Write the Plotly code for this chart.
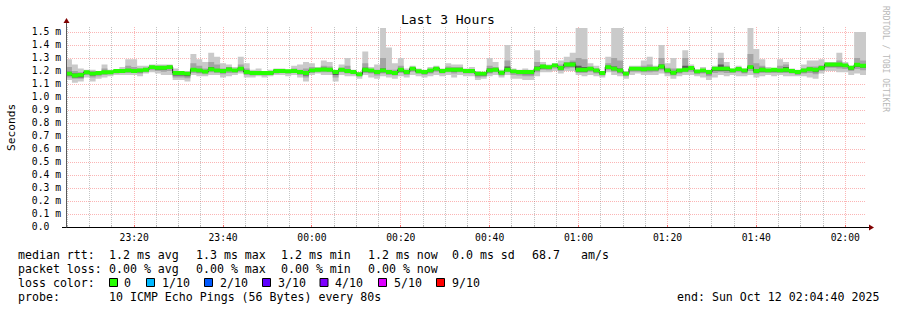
import plotly.graph_objects as go
from datetime import datetime, timedelta

# ---------------- data (values in milliseconds) ----------------
START = datetime(2025, 10, 11, 23, 4, 40)
END = datetime(2025, 10, 12, 2, 4, 40)
STEP_SECONDS = 80

MEDIAN = [
    1.180, 1.165, 1.170, 1.190, 1.180, 1.185, 1.190, 1.190, 1.200, 1.200, 1.205, 1.200, 1.205, 1.210, 1.230,
    1.225, 1.225, 1.230, 1.185, 1.185, 1.180, 1.210, 1.205, 1.195, 1.213, 1.205, 1.200, 1.212, 1.205, 1.218,
    1.192, 1.185, 1.185, 1.185, 1.185, 1.200, 1.200, 1.198, 1.200, 1.192, 1.185, 1.205, 1.210, 1.212, 1.210,
    1.192, 1.210, 1.200, 1.192, 1.175, 1.210, 1.205, 1.192, 1.205, 1.192, 1.185, 1.210, 1.192, 1.218, 1.198,
    1.192, 1.205, 1.218, 1.200, 1.210, 1.210, 1.210, 1.200, 1.200, 1.180, 1.180, 1.205, 1.210, 1.187, 1.210,
    1.197, 1.192, 1.192, 1.192, 1.218, 1.235, 1.230, 1.243, 1.223, 1.250, 1.250, 1.210, 1.210, 1.218, 1.205,
    1.185, 1.230, 1.218, 1.205, 1.180, 1.218, 1.218, 1.213, 1.218, 1.218, 1.235, 1.205, 1.187, 1.205, 1.210,
    1.223, 1.197, 1.205, 1.192, 1.218, 1.218, 1.218, 1.205, 1.215, 1.205, 1.230, 1.200, 1.210, 1.205, 1.210,
    1.205, 1.210, 1.200, 1.192, 1.205, 1.213, 1.210, 1.223, 1.250, 1.250, 1.250, 1.243, 1.225, 1.248, 1.240,
]
PING_MAX = [
    1.29, 1.25, 1.22, 1.21, 1.21, 1.20, 1.25, 1.21, 1.21, 1.23, 1.29, 1.29, 1.24, 1.24, 1.25,
    1.25, 1.25, 1.25, 1.22, 1.20, 1.20, 1.33, 1.29, 1.27, 1.34, 1.31, 1.26, 1.25, 1.23, 1.31,
    1.26, 1.21, 1.22, 1.20, 1.21, 1.22, 1.22, 1.21, 1.24, 1.25, 1.27, 1.26, 1.23, 1.28, 1.27,
    1.21, 1.25, 1.30, 1.21, 1.19, 1.35, 1.23, 1.25, 1.53, 1.38, 1.26, 1.30, 1.22, 1.24, 1.22,
    1.21, 1.23, 1.24, 1.22, 1.26, 1.25, 1.25, 1.22, 1.23, 1.20, 1.19, 1.30, 1.27, 1.21, 1.40,
    1.22, 1.21, 1.22, 1.21, 1.36, 1.27, 1.25, 1.26, 1.28, 1.31, 1.34, 1.53, 1.53, 1.26, 1.24,
    1.20, 1.31, 1.53, 1.53, 1.20, 1.24, 1.24, 1.28, 1.31, 1.24, 1.40, 1.26, 1.30, 1.22, 1.36,
    1.25, 1.21, 1.23, 1.21, 1.24, 1.34, 1.27, 1.22, 1.24, 1.22, 1.53, 1.37, 1.29, 1.23, 1.22,
    1.29, 1.27, 1.22, 1.21, 1.25, 1.28, 1.28, 1.29, 1.27, 1.27, 1.34, 1.27, 1.24, 1.50, 1.50,
]
PING_MIN = [
    1.13, 1.11, 1.12, 1.15, 1.12, 1.14, 1.15, 1.16, 1.17, 1.17, 1.17, 1.17, 1.16, 1.18, 1.19,
    1.18, 1.17, 1.17, 1.13, 1.13, 1.12, 1.17, 1.16, 1.16, 1.17, 1.17, 1.15, 1.16, 1.17, 1.18,
    1.15, 1.15, 1.16, 1.15, 1.16, 1.17, 1.17, 1.16, 1.17, 1.15, 1.12, 1.17, 1.18, 1.17, 1.17,
    1.12, 1.17, 1.16, 1.16, 1.14, 1.17, 1.15, 1.14, 1.16, 1.15, 1.14, 1.16, 1.15, 1.17, 1.16,
    1.15, 1.16, 1.17, 1.16, 1.17, 1.15, 1.17, 1.16, 1.16, 1.13, 1.14, 1.16, 1.17, 1.15, 1.17,
    1.14, 1.14, 1.13, 1.13, 1.16, 1.19, 1.19, 1.20, 1.18, 1.20, 1.20, 1.17, 1.16, 1.17, 1.16,
    1.15, 1.19, 1.17, 1.16, 1.14, 1.17, 1.18, 1.17, 1.17, 1.17, 1.18, 1.16, 1.14, 1.16, 1.17,
    1.17, 1.16, 1.15, 1.13, 1.15, 1.17, 1.16, 1.17, 1.16, 1.16, 1.17, 1.15, 1.16, 1.17, 1.16,
    1.17, 1.16, 1.16, 1.16, 1.16, 1.15, 1.14, 1.18, 1.20, 1.20, 1.19, 1.19, 1.17, 1.18, 1.17,
]
MID_HI = [
    1.23, 1.20, 1.19, 1.20, 1.20, 1.195, 1.22, 1.20, 1.205, 1.21, 1.24, 1.23, 1.22, 1.225, 1.24,
    1.24, 1.24, 1.24, 1.20, 1.195, 1.19, 1.26, 1.24, 1.22, 1.27, 1.25, 1.22, 1.23, 1.215, 1.25,
    1.22, 1.20, 1.20, 1.195, 1.20, 1.21, 1.21, 1.205, 1.22, 1.21, 1.22, 1.23, 1.22, 1.24, 1.235,
    1.20, 1.225, 1.24, 1.20, 1.185, 1.26, 1.215, 1.21, 1.30, 1.21, 1.21, 1.24, 1.205, 1.23, 1.21,
    1.20, 1.215, 1.23, 1.21, 1.235, 1.23, 1.23, 1.21, 1.215, 1.19, 1.185, 1.24, 1.23, 1.20, 1.28,
    1.21, 1.20, 1.205, 1.20, 1.27, 1.25, 1.24, 1.255, 1.25, 1.27, 1.28, 1.30, 1.29, 1.235, 1.22,
    1.195, 1.26, 1.30, 1.28, 1.19, 1.23, 1.23, 1.24, 1.25, 1.23, 1.30, 1.225, 1.22, 1.215, 1.30,
    1.235, 1.205, 1.215, 1.20, 1.23, 1.30, 1.24, 1.215, 1.225, 1.215, 1.33, 1.26, 1.24, 1.215, 1.215,
    1.24, 1.25, 1.21, 1.20, 1.22, 1.235, 1.235, 1.245, 1.26, 1.26, 1.28, 1.255, 1.235, 1.30, 1.28,
]
MID_LO = [
    1.15, 1.14, 1.14, 1.17, 1.15, 1.16, 1.17, 1.175, 1.18, 1.185, 1.185, 1.185, 1.18, 1.19, 1.205,
    1.20, 1.195, 1.20, 1.15, 1.15, 1.145, 1.185, 1.18, 1.175, 1.19, 1.185, 1.175, 1.185, 1.185, 1.195,
    1.17, 1.165, 1.17, 1.165, 1.17, 1.18, 1.185, 1.18, 1.185, 1.17, 1.15, 1.185, 1.19, 1.19, 1.19,
    1.15, 1.19, 1.18, 1.175, 1.16, 1.185, 1.18, 1.165, 1.18, 1.17, 1.165, 1.185, 1.17, 1.195, 1.18,
    1.17, 1.18, 1.195, 1.18, 1.19, 1.18, 1.19, 1.18, 1.18, 1.15, 1.155, 1.18, 1.19, 1.165, 1.19,
    1.17, 1.165, 1.16, 1.16, 1.19, 1.21, 1.205, 1.22, 1.20, 1.22, 1.225, 1.185, 1.185, 1.195, 1.18,
    1.165, 1.205, 1.195, 1.18, 1.16, 1.195, 1.195, 1.19, 1.19, 1.195, 1.205, 1.18, 1.165, 1.18, 1.19,
    1.195, 1.175, 1.18, 1.16, 1.185, 1.19, 1.185, 1.185, 1.19, 1.18, 1.20, 1.175, 1.185, 1.185, 1.185,
    1.185, 1.185, 1.18, 1.17, 1.18, 1.185, 1.175, 1.20, 1.225, 1.225, 1.22, 1.215, 1.20, 1.215, 1.205,
]
IN_HI = [
    1.195, 1.18, 1.18, 1.20, 1.19, 1.195, 1.20, 1.20, 1.21, 1.21, 1.215, 1.21, 1.215, 1.22, 1.235,
    1.235, 1.235, 1.24, 1.195, 1.19, 1.19, 1.22, 1.215, 1.205, 1.23, 1.215, 1.21, 1.225, 1.21, 1.23,
    1.20, 1.195, 1.195, 1.19, 1.195, 1.205, 1.205, 1.20, 1.21, 1.20, 1.20, 1.215, 1.215, 1.225, 1.22,
    1.20, 1.22, 1.215, 1.20, 1.18, 1.225, 1.21, 1.20, 1.22, 1.20, 1.195, 1.22, 1.20, 1.225, 1.205,
    1.20, 1.21, 1.225, 1.21, 1.22, 1.22, 1.22, 1.205, 1.21, 1.185, 1.185, 1.22, 1.22, 1.195, 1.235,
    1.205, 1.20, 1.20, 1.20, 1.235, 1.245, 1.235, 1.25, 1.235, 1.26, 1.265, 1.24, 1.23, 1.225, 1.215,
    1.19, 1.24, 1.235, 1.22, 1.185, 1.225, 1.225, 1.225, 1.23, 1.225, 1.25, 1.215, 1.20, 1.21, 1.24,
    1.23, 1.20, 1.21, 1.195, 1.225, 1.25, 1.23, 1.21, 1.22, 1.21, 1.24, 1.215, 1.225, 1.21, 1.215,
    1.215, 1.23, 1.205, 1.195, 1.21, 1.225, 1.22, 1.23, 1.255, 1.255, 1.26, 1.25, 1.23, 1.26, 1.25,
]
IN_LO = [
    1.165, 1.15, 1.15, 1.18, 1.165, 1.175, 1.18, 1.185, 1.19, 1.195, 1.195, 1.19, 1.19, 1.20, 1.215,
    1.21, 1.21, 1.215, 1.165, 1.165, 1.16, 1.20, 1.19, 1.185, 1.20, 1.195, 1.185, 1.20, 1.195, 1.205,
    1.18, 1.175, 1.175, 1.175, 1.175, 1.19, 1.19, 1.19, 1.19, 1.18, 1.165, 1.195, 1.20, 1.20, 1.20,
    1.17, 1.20, 1.19, 1.185, 1.165, 1.195, 1.19, 1.18, 1.19, 1.18, 1.175, 1.195, 1.18, 1.205, 1.19,
    1.18, 1.19, 1.205, 1.19, 1.20, 1.195, 1.20, 1.19, 1.19, 1.165, 1.165, 1.19, 1.20, 1.175, 1.20,
    1.185, 1.18, 1.175, 1.175, 1.205, 1.22, 1.215, 1.23, 1.21, 1.235, 1.235, 1.195, 1.195, 1.205, 1.19,
    1.175, 1.215, 1.205, 1.19, 1.17, 1.205, 1.205, 1.20, 1.205, 1.205, 1.22, 1.19, 1.175, 1.19, 1.20,
    1.21, 1.185, 1.19, 1.175, 1.20, 1.20, 1.20, 1.195, 1.20, 1.19, 1.215, 1.19, 1.195, 1.195, 1.195,
    1.195, 1.195, 1.19, 1.18, 1.19, 1.20, 1.19, 1.21, 1.235, 1.235, 1.235, 1.23, 1.21, 1.23, 1.225,
]

Y_TICK_VALUES = [0.0, 0.1, 0.2, 0.3, 0.4, 0.5, 0.6, 0.7, 0.8, 0.9, 1.0, 1.1, 1.2, 1.3, 1.4, 1.5]
Y_TICK_TEXT = ["0.0\u00a0\u00a0", "0.1 m", "0.2 m", "0.3 m", "0.4 m", "0.5 m", "0.6 m", "0.7 m",
               "0.8 m", "0.9 m", "1.0 m", "1.1 m", "1.2 m", "1.3 m", "1.4 m", "1.5 m"]

LOSS_LABELS = ["0", "1/10", "2/10", "3/10", "4/10", "5/10", "9/10"]
LOSS_COLORS = ["#26ff00", "#00b8ff", "#0059ff", "#5e00ff", "#7e00ff", "#dd00ff", "#ff0000"]

LEGEND_LINE1 = ["median rtt:", "1.2 ms avg", "1.3 ms max", "1.2 ms min", "1.2 ms now", "0.0 ms sd", "68.7", "am/s"]
LEGEND_LINE2 = ["packet loss:", "0.00 % avg", "0.00 % max", "0.00 % min", "0.00 % now"]
PROBE_TEXT = "10 ICMP Echo Pings (56 Bytes) every 80s"
END_TEXT = "end: Sun Oct 12 02:04:40 2025"
TITLE = "Last 3 Hours"

# ---------------- layout geometry ----------------
W, H = 897, 310
ML, MR, MT, MB = 66, 31, 27, 83
PW, PH = W - ML - MR, H - MT - MB
MONO = "DejaVu Sans Mono"
BAND = 0.015  # half height of the loss-coloured median band


def px(x):
    return (x - ML) / PW


def py(y):
    return (MT + PH - y) / PH


times = [START + timedelta(seconds=STEP_SECONDS * i) for i in range(len(MEDIAN) + 1)]


def ext(a):
    return list(a) + [a[-1]]


fig = go.Figure()


def band(lo, hi, color):
    fig.add_trace(go.Scatter(x=times, y=ext(lo), mode="lines", line=dict(width=0, shape="hv"),
                             hoverinfo="skip", showlegend=False))
    fig.add_trace(go.Scatter(x=times, y=ext(hi), mode="lines", line=dict(width=0, shape="hv"),
                             fill="tonexty", fillcolor=color, hoverinfo="skip", showlegend=False))


band(PING_MIN, PING_MAX, "#cacaca")
band(MID_LO, MID_HI, "#a4a4a4")
band(IN_LO, IN_HI, "#5a5a5a")

fig.add_trace(go.Scatter(x=times, y=ext(MEDIAN), mode="lines",
                         line=dict(width=1, shape="hv", color="#202020"),
                         hoverinfo="skip", showlegend=False))
band([m - BAND for m in MEDIAN], [m + BAND for m in MEDIAN], LOSS_COLORS[0])

MGRID = "rgba(245,79,79,0.42)"
GRID = "rgba(140,140,140,0.5)"

fig.update_xaxes(
    type="date", range=[START, END], showgrid=True, gridcolor=MGRID, griddash="1px,1px", gridwidth=1,
    tick0="2025-10-11 23:20:00", dtick=20 * 60 * 1000, tickformat="%H:%M",
    tickfont=dict(family=MONO, size=9.7, color="#000"),
    ticks="inside", ticklen=2, tickcolor="rgba(245,79,79,0.8)", ticklabelstandoff=3,
    minor=dict(dtick=5 * 60 * 1000, showgrid=True, gridcolor=GRID, griddash="1px,1px",
               ticks="inside", ticklen=2, tickcolor=GRID),
    showline=False, zeroline=False, fixedrange=True,
)
fig.update_yaxes(
    range=[0, 1.5385], tickvals=Y_TICK_VALUES, ticktext=Y_TICK_TEXT,
    showgrid=True, gridcolor=MGRID, griddash="1px,1px", gridwidth=1,
    tickfont=dict(family=MONO, size=9.7, color="#000"), ticks="", ticklabelstandoff=4,
    showline=False, zeroline=False, fixedrange=True,
)

shapes = []
# axes with arrows
shapes.append(dict(type="line", xref="paper", yref="paper", x0=px(62), x1=px(870), y0=py(227.5), y1=py(227.5),
                   line=dict(color="#000", width=1)))
shapes.append(dict(type="line", xref="paper", yref="paper", x0=px(66.5), x1=px(66.5), y0=py(227.5), y1=py(22),
                   line=dict(color="#5a5a5a", width=1)))
shapes.append(dict(type="path", xref="paper", yref="paper",
                   path=f"M {px(869)},{py(224.5)} L {px(874)},{py(227.5)} L {px(869)},{py(230.5)} Z",
                   fillcolor="#800000", line=dict(width=0)))
shapes.append(dict(type="path", xref="paper", yref="paper",
                   path=f"M {px(63.5)},{py(23)} L {px(66.5)},{py(18)} L {px(69.5)},{py(23)} Z",
                   fillcolor="#800000", line=dict(width=0)))

ann = []


def text(x, y, s, anchor="left", size=11.6, color="#000", angle=0, family=MONO):
    ann.append(dict(x=px(x), y=py(y), xref="paper", yref="paper", text=s, showarrow=False,
                    xanchor=anchor, yanchor="middle", textangle=angle,
                    font=dict(family=family, size=size, color=color)))


text(448, 19.5, TITLE, anchor="center", size=13)
text(11, 127, "Seconds", anchor="center", angle=-90, size=11.2)
text(886, 59, "RRDTOOL / TOBI OETIKER", anchor="center", angle=90, size=8, color="#b8b8b8")

L1_X = [16, 107, 194, 279, 366, 450, 530, 579]
for x, s in zip(L1_X, LEGEND_LINE1):
    text(x, 254.5, s)
L2_X = [16, 107, 194, 279, 366]
for x, s in zip(L2_X, LEGEND_LINE2):
    text(x, 268.5, s)
text(16, 282.5, "loss color:")
SQ_X = [109, 146, 204, 262, 319.5, 378, 436]
LBL_X = [122, 159.5, 217.5, 275.5, 333, 391.5, 449.5]
for sx, lx, lab, col in zip(SQ_X, LBL_X, LOSS_LABELS, LOSS_COLORS):
    shapes.append(dict(type="rect", xref="paper", yref="paper", x0=px(sx + 0.5), x1=px(sx + 8.5),
                       y0=py(278.5), y1=py(286.5), fillcolor=col, line=dict(color="#000", width=1)))
    text(lx, 282.5, lab)
text(16, 296.5, "probe:")
text(107, 296.5, PROBE_TEXT)
text(881, 296.5, END_TEXT, anchor="right")

fig.update_layout(
    width=W, height=H, margin=dict(l=ML, r=MR, t=MT, b=MB, pad=0),
    paper_bgcolor="#ffffff", plot_bgcolor="#ffffff", showlegend=False,
    shapes=shapes, annotations=ann, hovermode=False,
)

fig.write_html("out.html", config={"displayModeBar": False, "staticPlot": True})
